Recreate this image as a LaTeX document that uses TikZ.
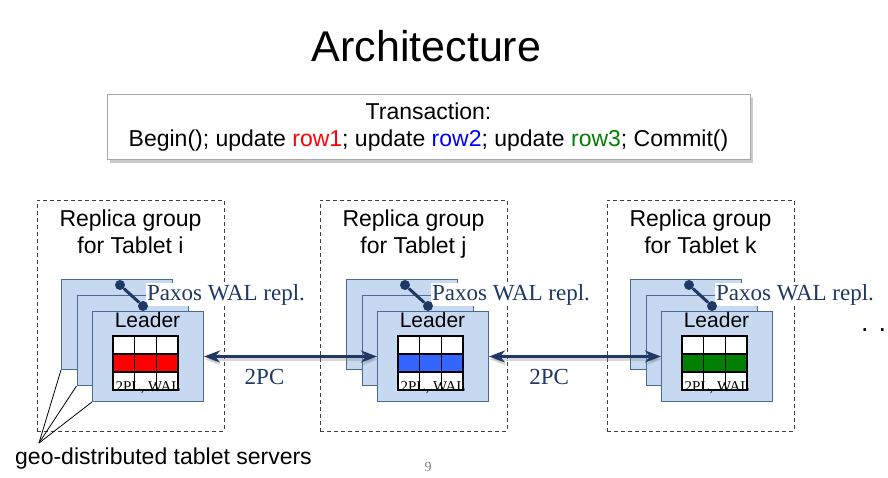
\documentclass[tikz,border=0pt]{standalone}
\usepackage{fontspec}
\setmainfont{Liberation Sans}
\newfontfamily\timesfont{Liberation Serif}
\usetikzlibrary{arrows.meta,shadows,positioning}

\definecolor{navy}{HTML}{1F3864}
\definecolor{repfill}{HTML}{C6D9F1}
\definecolor{repborder}{HTML}{4A6A94}
\definecolor{rowred}{HTML}{FF0000}
\definecolor{rowblue}{HTML}{3366FF}
\definecolor{rowgreen}{HTML}{008000}
\definecolor{framegray}{HTML}{A6A6A6}
\definecolor{dashgray}{HTML}{404040}

\begin{document}
\begin{tikzpicture}[x=1pt,y=-1pt,
  titletext/.style={font=\fontsize{43}{48}\selectfont, inner sep=0pt},
  sanstext/.style={font=\fontsize{23}{27}\selectfont, inner sep=0pt, align=center},
  txnbox/.style={draw=framegray, line width=1pt, fill=white, minimum width=643pt,
    minimum height=65pt, inner sep=0pt, align=center, font=\fontsize{23}{27}\selectfont,
    drop shadow={shadow xshift=3pt, shadow yshift=-3pt, fill=gray!80}},
  groupbox/.style={draw=dashgray, line width=0.8pt, dash pattern=on 4pt off 3pt,
    minimum width=187pt, minimum height=231pt, inner sep=0pt},
  replica/.style={draw=repborder, fill=repfill, line width=1pt, minimum width=111pt,
    minimum height=90pt, inner sep=0pt, anchor=north west},
  leadtext/.style={font=\fontsize{21}{25}\selectfont, inner sep=0pt, anchor=base},
  cellline/.style={black, line width=1.1pt},
  waltext/.style={font=\timesfont\fontsize{15}{17}\selectfont, inner sep=0pt, anchor=base},
  paxdot/.style={circle, fill=navy, inner sep=0pt, minimum size=10pt},
  paxline/.style={navy, line width=3pt},
  paxtext/.style={font=\timesfont\fontsize{23}{27}\selectfont, text=navy, fill=white,
    inner sep=1pt, anchor=base west},
  pcarrow/.style={navy, line width=2.8pt,
    {Stealth[length=16pt,width=12pt,inset=5pt]}-{Stealth[length=16pt,width=12pt,inset=5pt]}},
  pcshadow/.style={gray, opacity=0.3, line width=3pt,
    {Stealth[length=16pt,width=12pt,inset=5pt]}-{Stealth[length=16pt,width=12pt,inset=5pt]}},
  pctext/.style={font=\timesfont\fontsize{23}{27}\selectfont, text=navy, inner sep=0pt},
  fanline/.style={black, line width=0.8pt},
  pagetext/.style={font=\timesfont\fontsize{14}{16}\selectfont, text=gray, inner sep=0pt},
  dotstext/.style={font=\fontsize{27}{30}\selectfont, inner sep=0pt, anchor=base west}]

\path[use as bounding box, fill=white] (0,0) rectangle (888,478);

\node[titletext, anchor=base] (title) at (426.5,62) {Architecture};

\node[txnbox] (txn) at (428.5,127.5) {Transaction:\\Begin(); update \textcolor{rowred}{row1}; update
  \textcolor{blue}{row2}; update \textcolor{rowgreen}{row3}; Commit()};

\foreach \g/\bx/\sx/\rowc in {i/37/61/rowred, j/320/346/rowblue, k/607/630/rowgreen} {
  \node[groupbox] (grp-\g) at (\bx+93.5,315.5) {};
  \node[sanstext, anchor=north] (lbl-\g) at (\bx+93.5,209.5) {Replica group\\for Tablet \g};

  \node[replica] (back-\g) at (\sx,279) {};
  \node[replica] (mid-\g) at (\sx+15.5,295) {};
  \node[replica] (lead-\g) at (\sx+31,311) {};
  \node[leadtext] (ldr-\g) at (\sx+86.5,327) {Leader};

  \fill[white] (\sx+52,336) rectangle (\sx+117,390);
  \fill[\rowc] (\sx+52,354) rectangle (\sx+117,372);
  \draw[cellline] (\sx+52,336) rectangle (\sx+117,390);
  \foreach \cx in {73.67,95.33}
    \draw[cellline] (\sx+\cx,336) -- (\sx+\cx,390);
  \foreach \cy in {354,372}
    \draw[cellline] (\sx+52,\cy) -- (\sx+117,\cy);
  \node[waltext] (wal-\g) at (\sx+87,391) {2PL, WAL};

  \node[paxtext] (pax-\g) at (\sx+85,300) {Paxos WAL repl.};
  \node[paxdot] (pa-\g) at (\sx+59,285) {};
  \node[paxdot] (pb-\g) at (\sx+82,306) {};
  \draw[paxline] (pa-\g) -- (pb-\g);
}

\draw[pcshadow] ([shift={(1,3)}]lead-i.east) -- ([shift={(1,3)}]lead-j.west);
\draw[pcshadow] ([shift={(1,3)}]lead-j.east) -- ([shift={(1,3)}]lead-k.west);
\draw[pcarrow] (lead-i.east) -- node[pctext, pos=0.35, below=11pt] (pc-ij) {2PC} (lead-j.west);
\draw[pcarrow] (lead-j.east) -- node[pctext, pos=0.35, below=11pt] (pc-jk) {2PC} (lead-k.west);

\node[sanstext, anchor=base west] (geo) at (15,464) {geo-distributed tablet servers};
\coordinate (fan) at (39,443);
\foreach \r in {back,mid,lead}
  \draw[fanline] (fan) -- (\r-i.south west);

\node[pagetext] (pagenum) at (428,467) {9};
\node[dotstext] (more) at (861,331.5) {. .};

\end{tikzpicture}
\end{document}
